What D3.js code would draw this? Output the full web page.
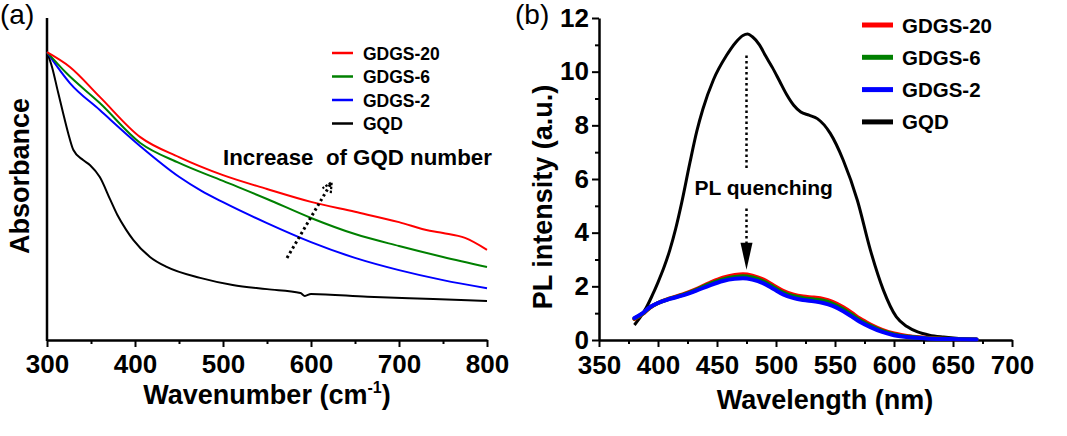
<!DOCTYPE html>
<html>
<head>
<meta charset="utf-8">
<script src="https://cdn.jsdelivr.net/npm/d3@7"></script>
<style>
  html, body { margin: 0; padding: 0; background: #fff; }
  svg { display: block; }
  text { font-family: "Liberation Sans", Arial, sans-serif; fill: #000; }
</style>
</head>
<body>
<svg id="chart" width="1067" height="436"></svg>
<script>
// ---------- Panel (a): absorbance ----------
const absTicks = [300, 400, 500, 600, 700, 800];
const absMinor = [350, 450, 550, 650, 750];

const absRedX   = [300, 326, 360, 406, 450, 500, 550, 600, 650, 700, 735, 750, 775, 800];
const absRedY   = [0.894, 0.848, 0.755, 0.630, 0.568, 0.512, 0.469, 0.429, 0.398, 0.366, 0.339, 0.332, 0.317, 0.280];

const absGreenX = [300, 322, 360, 406, 450, 500, 550, 600, 650, 700, 750, 800];
const absGreenY = [0.894, 0.829, 0.736, 0.612, 0.550, 0.494, 0.438, 0.379, 0.329, 0.292, 0.258, 0.227];

const absBlueX  = [300, 326, 360, 406, 450, 475, 500, 550, 600, 650, 700, 750, 800];
const absBlueY  = [0.894, 0.798, 0.714, 0.602, 0.507, 0.464, 0.428, 0.363, 0.304, 0.255, 0.217, 0.186, 0.161];

const absGqdX   = [300, 306, 312, 318, 324, 330, 341, 349, 360, 372, 380, 390, 398, 417, 436, 474, 511, 550, 588, 593, 600, 664, 739, 800];
const absGqdY   = [0.894, 0.845, 0.776, 0.708, 0.643, 0.590, 0.559, 0.543, 0.506, 0.435, 0.388, 0.342, 0.311, 0.258, 0.227, 0.193, 0.171, 0.158, 0.146, 0.137, 0.143, 0.134, 0.127, 0.121];

// ---------- Panel (b): PL ----------
const plTicks  = [350, 400, 450, 500, 550, 600, 650, 700];
const plMinor  = [375, 425, 475, 525, 575, 625, 675];
const plYTicks = [0, 2, 4, 6, 8, 10, 12];
const plYMinor = [1, 3, 5, 7, 9, 11];

const plGqdX = [380, 385, 390, 395, 400, 405, 410, 415, 420, 427, 433, 438, 447, 458, 466, 472, 476, 480, 486, 491, 497, 503, 509, 515, 521, 528, 535, 546, 557, 569, 580, 591, 602, 611, 620, 630, 642, 655, 670];
const plGqdY = [0.56, 0.85, 1.2, 1.65, 2.15, 2.7, 3.35, 4.15, 5.1, 6.6, 7.8, 8.6, 9.7, 10.6, 11.1, 11.35, 11.4, 11.3, 11.0, 10.6, 10.15, 9.65, 9.15, 8.75, 8.5, 8.38, 8.25, 7.7, 6.7, 5.2, 3.35, 1.86, 0.86, 0.5, 0.3, 0.18, 0.11, 0.06, 0.03];

const plGdgsX  = [380, 387, 393, 400, 410, 421, 432, 444, 455, 465, 472, 480, 489, 498, 506, 515, 523, 532, 540, 548, 557, 564, 571, 580, 590, 600, 613, 627, 641, 655, 670];
const plBlueY  = [0.82, 1.0, 1.22, 1.38, 1.53, 1.66, 1.83, 2.04, 2.20, 2.28, 2.30, 2.25, 2.12, 1.90, 1.70, 1.56, 1.49, 1.44, 1.38, 1.27, 1.07, 0.88, 0.68, 0.48, 0.30, 0.18, 0.10, 0.06, 0.04, 0.03, 0.02];
const plGreenY = [0.80, 0.98, 1.21, 1.38, 1.54, 1.68, 1.86, 2.09, 2.26, 2.35, 2.38, 2.33, 2.19, 1.97, 1.77, 1.63, 1.56, 1.51, 1.46, 1.35, 1.15, 0.95, 0.74, 0.53, 0.34, 0.21, 0.12, 0.07, 0.05, 0.03, 0.02];
const plRedY   = [0.78, 0.97, 1.20, 1.38, 1.55, 1.70, 1.89, 2.13, 2.32, 2.42, 2.45, 2.40, 2.26, 2.03, 1.83, 1.69, 1.62, 1.58, 1.53, 1.42, 1.22, 1.02, 0.80, 0.58, 0.38, 0.24, 0.14, 0.08, 0.05, 0.03, 0.02];

const seriesNames  = ["GDGS-20", "GDGS-6", "GDGS-2", "GQD"];
const seriesColors = ["#ff0000", "#008000", "#0000ff", "#000000"];

// ---------- drawing ----------
const svg = d3.select("#chart");
const FONT_AX = 26;

function zip(xs, ys) { return xs.map((x, i) => [x, ys[i]]); }

function styleAxis(g, fs) {
  g.select(".domain").attr("stroke", "#000").attr("stroke-width", 2.5);
  g.selectAll(".tick line").attr("stroke", "#000").attr("stroke-width", 2);
  g.selectAll(".tick text").attr("font-size", fs).attr("font-weight", "bold").attr("fill", "#000");
}

// ===== Panel A =====
const xA = d3.scaleLinear().domain([300, 800]).range([47, 487]);
const yA = d3.scaleLinear().domain([0, 1]).range([340, 18]);
const gA = svg.append("g");

gA.append("g").attr("transform", "translate(0,340)")
  .call(d3.axisBottom(xA).tickValues(absMinor).tickSize(4).tickSizeOuter(0).tickFormat(""))
  .call(g => { styleAxis(g, FONT_AX); g.select(".domain").remove(); });
gA.append("g").attr("transform", "translate(0,340)")
  .call(d3.axisBottom(xA).tickValues(absTicks).tickSize(7).tickSizeOuter(0).tickPadding(8).tickFormat(d3.format("d")))
  .call(g => styleAxis(g, FONT_AX));
gA.append("line").attr("x1", xA(300)).attr("x2", xA(300)).attr("y1", yA(1)).attr("y2", yA(0) + 1)
  .attr("stroke", "#000").attr("stroke-width", 2.5);

const lineA = d3.line().x(d => xA(d[0])).y(d => yA(d[1])).curve(d3.curveMonotoneX);
const absSeries = [zip(absRedX, absRedY), zip(absGreenX, absGreenY), zip(absBlueX, absBlueY), zip(absGqdX, absGqdY)];
[3, 2, 1, 0].forEach(i => {
  gA.append("path").datum(absSeries[i]).attr("d", lineA)
    .attr("fill", "none").attr("stroke", seriesColors[i]).attr("stroke-width", 2)
    .attr("stroke-linejoin", "round");
});

// axis titles A
const tA = gA.append("text").attr("x", 267).attr("y", 404).attr("text-anchor", "middle")
  .attr("font-size", 27).attr("font-weight", "bold");
tA.append("tspan").text("Wavenumber (cm");
tA.append("tspan").attr("font-size", 16).attr("dy", -11).text("-1");
tA.append("tspan").attr("dy", 11).text(")");

gA.append("text").attr("transform", "translate(29,176) rotate(-90)").attr("text-anchor", "middle")
  .attr("font-size", 27).attr("font-weight", "bold").text("Absorbance");

gA.append("text").attr("x", 0).attr("y", 24).attr("font-size", 28).text("(a)");

// legend A
const legA = gA.append("g");
seriesNames.forEach((n, i) => {
  const y = 53 + i * 23.5;
  legA.append("line").attr("x1", 332).attr("x2", 353).attr("y1", y).attr("y2", y)
    .attr("stroke", seriesColors[i]).attr("stroke-width", 2.5);
  legA.append("text").attr("x", 363).attr("y", y + 6.5).attr("font-size", 17.5)
    .attr("font-weight", "bold").text(n);
});

// annotation A
gA.append("text").attr("x", 223).attr("y", 165).attr("font-size", 22.3).attr("font-weight", "bold")
  .style("white-space", "pre").text("Increase  of GQD number");
const aFrom = [572.7, 0.255], aTo = [623.5, 0.49];
gA.append("line").attr("x1", xA(aFrom[0])).attr("y1", yA(aFrom[1]))
  .attr("x2", xA(aTo[0])).attr("y2", yA(aTo[1]))
  .attr("stroke", "#000").attr("stroke-width", 3).attr("stroke-dasharray", "2.5,3");
{
  const x2 = xA(aTo[0]), y2 = yA(aTo[1]);
  const x1 = xA(aFrom[0]), y1 = yA(aFrom[1]);
  const ang = Math.atan2(y2 - y1, x2 - x1);
  const L = 11, w = 0.45;
  const p1 = [x2 - L * Math.cos(ang - w), y2 - L * Math.sin(ang - w)];
  const p2 = [x2 - L * Math.cos(ang + w), y2 - L * Math.sin(ang + w)];
  gA.append("path").attr("d", `M${p1}L${x2},${y2}L${p2}`)
    .attr("fill", "none").attr("stroke", "#000").attr("stroke-width", 2.2).attr("stroke-dasharray", "2.5,1.5");
}

// ===== Panel B =====
const xB = d3.scaleLinear().domain([350, 700]).range([599, 1012]);
const yB = d3.scaleLinear().domain([0, 12]).range([340, 18]);
const gB = svg.append("g");

gB.append("g").attr("transform", "translate(0,340)")
  .call(d3.axisBottom(xB).tickValues(plMinor).tickSize(4).tickSizeOuter(0).tickFormat(""))
  .call(g => { styleAxis(g, FONT_AX); g.select(".domain").remove(); });
gB.append("g").attr("transform", "translate(0,340)")
  .call(d3.axisBottom(xB).tickValues(plTicks).tickSize(7).tickSizeOuter(0).tickPadding(9).tickFormat(d3.format("d")))
  .call(g => styleAxis(g, FONT_AX));
gB.append("g").attr("transform", "translate(599,0)")
  .call(d3.axisLeft(yB).tickValues(plYMinor).tickSize(4).tickSizeOuter(0).tickFormat(""))
  .call(g => { styleAxis(g, FONT_AX); g.select(".domain").remove(); });
gB.append("g").attr("transform", "translate(599,0)")
  .call(d3.axisLeft(yB).tickValues(plYTicks).tickSize(7).tickSizeOuter(0).tickPadding(3).tickFormat(d3.format("d")))
  .call(g => styleAxis(g, FONT_AX));

const lineB = d3.line().x(d => xB(d[0])).y(d => yB(d[1])).curve(d3.curveMonotoneX);
gB.append("path").datum(zip(plGqdX, plGqdY)).attr("d", lineB)
  .attr("fill", "none").attr("stroke", "#000").attr("stroke-width", 3).attr("stroke-linejoin", "round");
[[plRedY, 0], [plGreenY, 1], [plBlueY, 2]].forEach(([ys, i]) => {
  gB.append("path").datum(zip(plGdgsX, ys)).attr("d", lineB)
    .attr("fill", "none").attr("stroke", seriesColors[i]).attr("stroke-width", 4)
    .attr("stroke-linejoin", "round").attr("stroke-linecap", "round");
});

// axis titles B
gB.append("text").attr("x", 825).attr("y", 409).attr("text-anchor", "middle")
  .attr("font-size", 27).attr("font-weight", "bold").text("Wavelength (nm)");
gB.append("text").attr("transform", "translate(552,197) rotate(-90)").attr("text-anchor", "middle")
  .attr("font-size", 27).attr("font-weight", "bold").text("PL intensity (a.u.)");
gB.append("text").attr("x", 515).attr("y", 24).attr("font-size", 28).text("(b)");

// legend B
const legB = gB.append("g");
seriesNames.forEach((n, i) => {
  const y = 25 + i * 32.3;
  legB.append("line").attr("x1", 862).attr("x2", 893).attr("y1", y).attr("y2", y)
    .attr("stroke", seriesColors[i]).attr("stroke-width", 5);
  legB.append("text").attr("x", 902).attr("y", y + 7.5).attr("font-size", 20.5)
    .attr("font-weight", "bold").text(n);
});

// annotation B
const arrowX = 475;
gB.append("line").attr("x1", xB(arrowX)).attr("x2", xB(arrowX)).attr("y1", yB(10.6)).attr("y2", yB(6.3))
  .attr("stroke", "#000").attr("stroke-width", 2.5).attr("stroke-dasharray", "2.5,3");
gB.append("line").attr("x1", xB(arrowX)).attr("x2", xB(arrowX)).attr("y1", yB(4.9)).attr("y2", yB(3.6))
  .attr("stroke", "#000").attr("stroke-width", 2.5).attr("stroke-dasharray", "2.5,3");
{
  const cx = xB(arrowX), tip = yB(2.62), base = yB(3.62);
  gB.append("path").attr("d", `M${cx - 6},${base}L${cx + 6},${base}L${cx},${tip}Z`).attr("fill", "#000");
}
gB.append("text").attr("x", xB(arrowX) - 52).attr("y", 195).attr("font-size", 21)
  .attr("font-weight", "bold").text("PL quenching");
</script>
</body>
</html>
